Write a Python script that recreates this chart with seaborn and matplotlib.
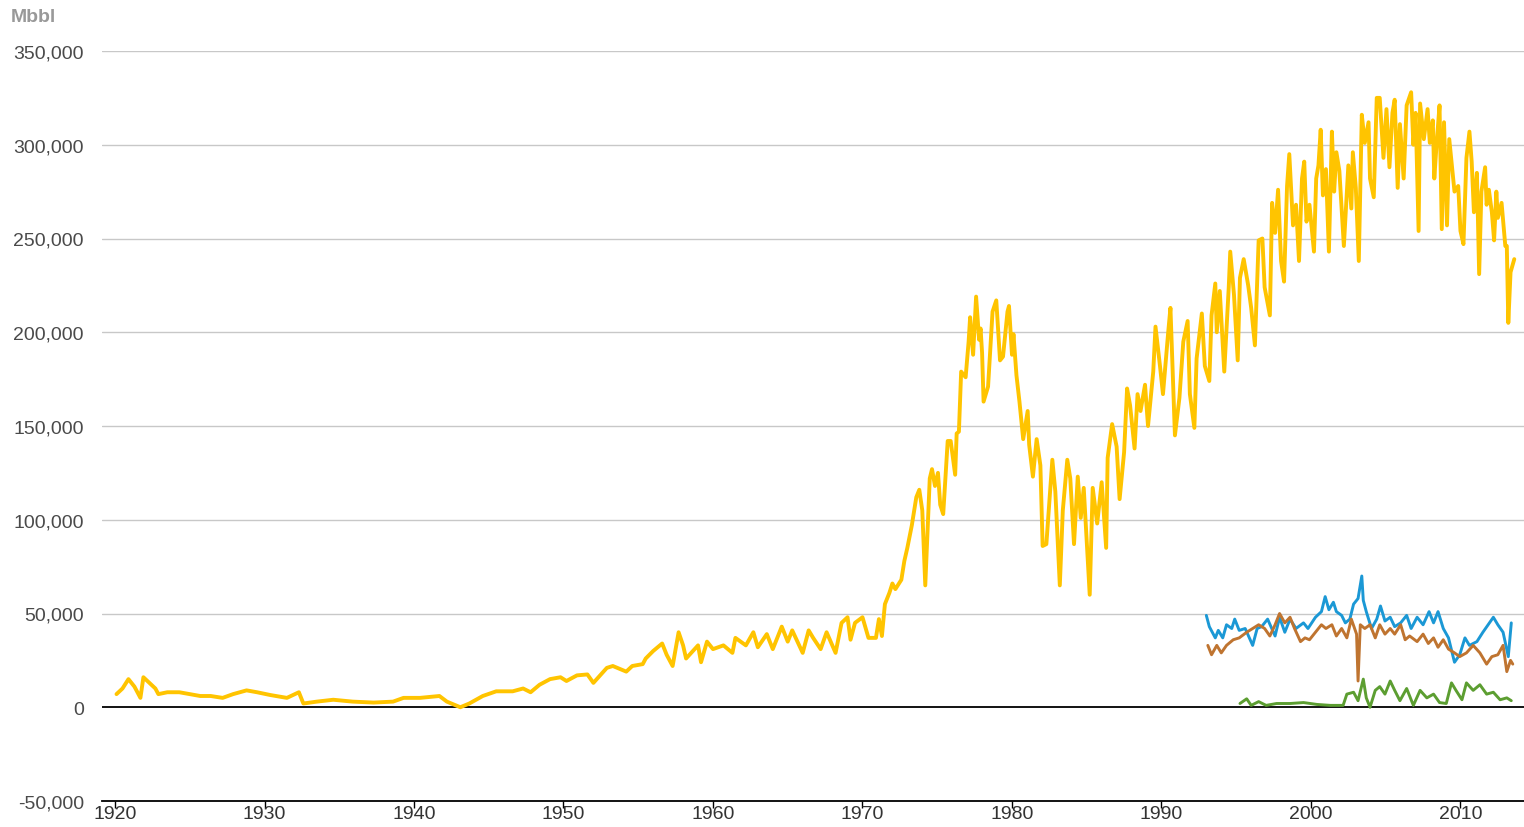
import matplotlib
matplotlib.use("Agg")
import matplotlib.pyplot as plt
import numpy as np
import pandas as pd
import seaborn as sns
from matplotlib.ticker import FuncFormatter

# ---------------- data (values in thousand Mbbl) ----------------
yellow_year = [
    1920.1, 1920.5, 1920.9, 1921.3, 1921.7, 1921.9, 1922.3, 1922.7, 1922.9, 1923.5,
    1924.3, 1925.0, 1925.7, 1926.4, 1927.2, 1927.9, 1928.8, 1929.5, 1930.4, 1931.5,
    1932.3, 1932.6, 1933.5, 1934.6, 1935.9, 1937.3, 1938.6, 1939.3, 1940.4, 1941.7,
    1942.2, 1943.1, 1943.7, 1944.6, 1945.5, 1946.6, 1947.3, 1947.8, 1948.4, 1949.1,
    1949.8, 1950.2, 1950.9, 1951.6, 1952.0, 1952.9, 1953.3, 1954.2, 1954.6, 1955.3,
    1955.5, 1956.0, 1956.6, 1956.9, 1957.3, 1957.7, 1958.0, 1958.2, 1959.0, 1959.2,
    1959.6, 1960.0, 1960.7, 1961.3, 1961.5, 1962.2, 1962.7, 1963.0, 1963.6, 1964.0,
    1964.6, 1965.0, 1965.3, 1966.0, 1966.4, 1966.7, 1967.2, 1967.6, 1968.2, 1968.6,
    1969.0, 1969.2, 1969.5, 1970.0, 1970.4, 1970.9, 1971.1, 1971.3, 1971.5, 1971.8,
    1972.0, 1972.2, 1972.6, 1972.8, 1973.0, 1973.3, 1973.6, 1973.8, 1974.0, 1974.2,
    1974.5, 1974.65, 1974.85, 1975.05, 1975.2, 1975.4, 1975.7, 1975.9, 1976.2, 1976.3,
    1976.45, 1976.6, 1976.9, 1977.1, 1977.2, 1977.4, 1977.6, 1977.8, 1977.9, 1978.0,
    1978.1, 1978.4, 1978.7, 1978.95, 1979.2, 1979.4, 1979.7, 1979.8, 1980.0, 1980.1,
    1980.3, 1980.5, 1980.75, 1981.05, 1981.15, 1981.4, 1981.65, 1981.9, 1982.05, 1982.3,
    1982.7, 1982.9, 1983.2, 1983.4, 1983.7, 1983.9, 1984.15, 1984.4, 1984.6, 1984.8,
    1985.2, 1985.4, 1985.7, 1986.0, 1986.3, 1986.4, 1986.7, 1987.0, 1987.2, 1987.5,
    1987.7, 1987.9, 1988.2, 1988.4, 1988.6, 1988.9, 1989.1, 1989.45, 1989.6, 1989.9,
    1990.1, 1990.45, 1990.6, 1990.9, 1991.2, 1991.46, 1991.75, 1991.9, 1992.2, 1992.35,
    1992.7, 1992.9, 1993.2, 1993.35, 1993.6, 1993.7, 1993.9, 1994.2, 1994.5, 1994.6,
    1994.85, 1995.1, 1995.25, 1995.5, 1995.8, 1996.0, 1996.25, 1996.5, 1996.75, 1996.9,
    1997.25, 1997.4, 1997.6, 1997.8, 1998.0, 1998.2, 1998.4, 1998.55, 1998.8, 1999.0,
    1999.2, 1999.4, 1999.55, 1999.7, 1999.9, 2000.2, 2000.35, 2000.5, 2000.65, 2000.8,
    2001.0, 2001.2, 2001.4, 2001.55, 2001.7, 2001.9, 2002.2, 2002.5, 2002.7, 2002.8,
    2003.0, 2003.2, 2003.4, 2003.6, 2003.85, 2003.95, 2004.2, 2004.4, 2004.6, 2004.85,
    2005.05, 2005.25, 2005.45, 2005.6, 2005.8, 2005.95, 2006.2, 2006.4, 2006.7, 2006.85,
    2007.0, 2007.2, 2007.3, 2007.55, 2007.8, 2007.95, 2008.15, 2008.25, 2008.4, 2008.6,
    2008.75, 2008.9, 2009.1, 2009.25, 2009.4, 2009.6, 2009.85, 2010.0, 2010.2, 2010.4,
    2010.6, 2010.75, 2010.9, 2011.1, 2011.25, 2011.4, 2011.65, 2011.75, 2011.9, 2012.1,
    2012.25, 2012.4, 2012.5, 2012.75, 2013.0, 2013.1, 2013.2, 2013.35, 2013.6,
]
yellow_k = [
    7, 10, 15, 11, 5, 16, 13, 10, 7, 8,
    8, 7, 6, 6, 5, 7, 9, 8, 6.5, 5,
    8, 2, 3, 4, 3, 2.5, 3, 5, 5, 6,
    3, 0, 2, 6, 8.5, 8.5, 10, 8, 12, 15,
    16, 14, 17, 17.5, 13, 21, 22, 19, 22, 23,
    26, 30, 34, 28, 22, 40, 33, 26, 33, 24,
    35, 31, 33, 29, 37, 33, 40, 32, 39, 31,
    43, 35, 41, 29, 41, 37, 31, 40, 29, 45,
    48, 36, 45, 48, 37, 37, 47, 38, 55, 61,
    66, 63, 68, 78, 85, 97, 112, 116, 105, 65,
    122, 127, 118, 125, 108, 103, 142, 142, 124, 146,
    147, 179, 176, 195, 208, 188, 219, 196, 202, 189,
    163, 171, 211, 217, 185, 187, 211, 214, 188, 199,
    177, 163, 143, 158, 140, 123, 143, 129, 86, 87,
    132, 115, 65, 105, 132, 122, 87, 123, 101, 117,
    60, 117, 98, 120, 85, 133, 151, 139, 111, 136,
    170, 161, 138, 167, 158, 172, 150, 179, 203, 182,
    167, 200, 213, 145, 165, 195, 206, 167, 149, 186,
    210, 182, 174, 209, 226, 200, 222, 179, 224, 243,
    220, 185, 229, 239, 225, 213, 193, 249, 250, 224,
    209, 269, 253, 276, 238, 227, 278, 295, 257, 268,
    238, 282, 291, 259, 268, 243, 282, 289, 308, 273,
    287, 243, 307, 275, 296, 286, 246, 289, 266, 296,
    277, 238, 316, 301, 312, 282, 272, 325, 325, 293,
    319, 288, 317, 324, 277, 311, 282, 321, 328, 300,
    317, 254, 322, 303, 319, 301, 313, 282, 300, 321,
    255, 312, 257, 303, 291, 275, 278, 254, 247, 293,
    307, 291, 264, 285, 231, 275, 288, 268, 276, 264,
    249, 275, 261, 269, 246, 246, 205, 232, 239,
]

blue_year = [
    1993.0, 1993.2, 1993.6, 1993.8, 1994.1, 1994.35, 1994.7, 1994.9, 1995.2, 1995.6,
    1996.1, 1996.4, 1996.7, 1997.1, 1997.6, 1997.9, 1998.25, 1998.6, 1999.0, 1999.5,
    1999.8, 2000.3, 2000.7, 2000.95, 2001.2, 2001.5, 2001.7, 2002.05, 2002.3, 2002.6,
    2002.85, 2003.15, 2003.4, 2003.5, 2003.7, 2004.05, 2004.4, 2004.65, 2004.95, 2005.3,
    2005.6, 2006.0, 2006.4, 2006.7, 2007.1, 2007.5, 2007.9, 2008.2, 2008.5, 2008.85,
    2009.2, 2009.6, 2009.95, 2010.3, 2010.6, 2011.1, 2011.5, 2011.85, 2012.2, 2012.5,
    2012.85, 2013.2, 2013.4,
]
blue_k = [
    49, 43, 37, 41, 37, 44, 42, 47, 41, 42,
    33, 42, 43, 47, 38, 48, 40, 47, 42, 45,
    42, 48, 51, 59, 52, 56, 51, 49, 45, 47,
    55, 58, 70, 57, 51, 42, 47, 54, 46, 48,
    43, 45, 49, 42, 48, 44, 51, 45, 51, 42,
    37, 24, 28, 37, 33, 35, 40, 44, 48, 44,
    40, 27, 45,
]

brown_year = [
    1993.1, 1993.35, 1993.7, 1994.0, 1994.35, 1994.8, 1995.2, 1995.7, 1996.1, 1996.5,
    1996.9, 1997.25, 1997.6, 1997.9, 1998.25, 1998.6, 1998.9, 1999.3, 1999.6, 1999.9,
    2000.4, 2000.7, 2001.0, 2001.4, 2001.7, 2002.05, 2002.4, 2002.7, 2003.05, 2003.15,
    2003.3, 2003.6, 2003.95, 2004.3, 2004.6, 2004.95, 2005.3, 2005.6, 2006.0, 2006.3,
    2006.6, 2007.1, 2007.5, 2007.85, 2008.2, 2008.5, 2008.85, 2009.2, 2009.6, 2009.95,
    2010.4, 2010.85, 2011.3, 2011.75, 2012.1, 2012.5, 2012.85, 2013.1, 2013.35, 2013.5,
]
brown_k = [
    33, 28, 33, 29, 33, 36, 37, 40, 42, 44,
    42, 38, 44, 50, 45, 48, 42, 35, 37, 36,
    41, 44, 42, 44, 38, 42, 37, 47, 39, 14,
    44, 42, 44, 37, 44, 39, 42, 39, 44, 36,
    38, 35, 39, 34, 37, 32, 36, 31, 29, 27,
    29, 33, 29, 23, 27, 28, 33, 19, 25, 23,
]

green_year = [
    1995.25, 1995.7, 1996.0, 1996.5, 1997.0, 1997.7, 1998.6, 1999.5, 2000.4, 2001.3,
    2002.15, 2002.4, 2002.85, 2003.15, 2003.5, 2003.7, 2003.95, 2004.3, 2004.6, 2004.95,
    2005.3, 2005.6, 2005.95, 2006.4, 2006.85, 2007.3, 2007.75, 2008.2, 2008.6, 2009.05,
    2009.4, 2009.7, 2010.1, 2010.4, 2010.85, 2011.3, 2011.75, 2012.2, 2012.65, 2013.1,
    2013.4,
]
green_k = [
    2, 4.5, 1, 3, 1, 2, 2, 2.5, 1.5, 1,
    1, 7, 8, 3.5, 15, 5, 0, 9, 11, 7,
    14, 9, 3.5, 10, 1, 9, 5, 7, 2.5, 2,
    13, 9, 4, 13, 9, 12, 7, 8, 4, 5,
    3.5,
]

series = [
    (yellow_year, yellow_k, "#FFC400", 2.8),
    (blue_year, blue_k, "#1B98D5", 2.1),
    (brown_year, brown_k, "#BF7430", 2.1),
    (green_year, green_k, "#5C9E31", 2.1),
]

y_ticks = list(range(-50000, 350001, 50000))
x_ticks = list(range(1920, 2011, 10))

# ---------------- figure ----------------
sns.set_theme(style="white")
plt.rcParams["font.family"] = ["Liberation Sans", "DejaVu Sans"]

W, H = 1524, 828
fig = plt.figure(figsize=(W / 100, H / 100), dpi=100)
ax = fig.add_axes([102 / W, 26 / H, 1 - 102 / W, (802 - 52) / H])

for yrs, vals, col, lw in series:
    df = pd.DataFrame({"year": yrs, "value": np.array(vals) * 1000.0})
    sns.lineplot(data=df, x="year", y="value", ax=ax, color=col, linewidth=lw,
                 estimator=None, legend=False, zorder=3)

ax.set_xlim(1919.13, 2014.25)
ax.set_ylim(-50000, 350000)
ax.set_xlabel("")
ax.set_ylabel("")

ax.set_yticks(y_ticks)
ax.yaxis.set_major_formatter(FuncFormatter(lambda v, p: f"{int(v):,}"))
ax.set_xticks(x_ticks)

for yv in y_ticks:
    if yv > -50000 and yv != 0:
        ax.axhline(yv, color="#c8c8c8", linewidth=1.0, zorder=1)
ax.axhline(0, color="black", linewidth=1.3, zorder=2)

for s in ["top", "left", "right"]:
    ax.spines[s].set_visible(False)
ax.spines["bottom"].set_color("black")
ax.spines["bottom"].set_linewidth(1.3)

ax.tick_params(axis="y", length=0, labelsize=14, labelcolor="#4a4a4a", pad=13)
ax.tick_params(axis="x", direction="out", length=5, width=1, color="black",
               labelsize=14, labelcolor="#333333", pad=-2, bottom=True)

fig.text(11 / W, 1 - 17 / H, "Mbbl", fontsize=14, fontweight="bold",
         color="#999999", va="center", ha="left")

fig.savefig("out.png", dpi=100)
